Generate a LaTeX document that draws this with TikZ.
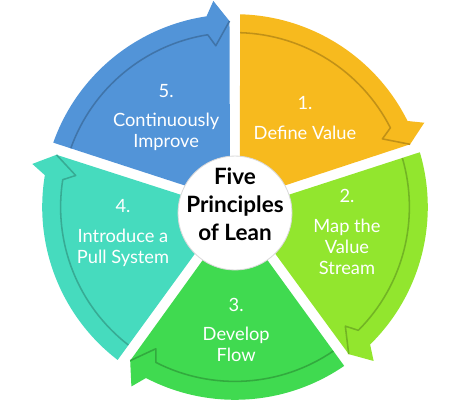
\documentclass[tikz,border=0pt]{standalone}
\usepackage{fontspec}
\setmainfont{Lato}
\definecolor{leanA}{RGB}{247,186,30}
\definecolor{leanB}{RGB}{146,230,46}
\definecolor{leanC}{RGB}{64,218,80}
\definecolor{leanD}{RGB}{70,219,190}
\definecolor{leanE}{RGB}{82,148,216}

\begin{document}
\begin{tikzpicture}[
    rim/.style={line width=1.1pt,line join=round},
    lbl/.style={text=white,align=center,font=\fontsize{13}{15}\selectfont},
    hub/.style={circle,fill=white,draw=black!15,line width=0.6pt,minimum size=2.85cm},
  ]
\useasboundingbox (-5.875,-5.0) rectangle (5.975,5.175);
% five arrow segments, clockwise
\foreach \a/\c in {90/leanA,18/leanB,-54/leanC,-126/leanD,162/leanE}{
  \pgfmathsetmacro\b{\a-72}
  \fill[\c] ({\a-36}:0.21) -- ({\a-1.5}:4.82)
    arc[start angle=\a-1.5,end angle=\b+8.5,radius=4.82cm]
    -- ({\b+6}:5.18) -- ({\b+1.7}:4.65) -- cycle;
  \draw[\c!78!black,rim] ({\a-1.7}:4.36)
    arc[start angle=\a-1.7,end angle=\b+9,radius=4.36cm]
    -- ({\b+6.8}:4.06) -- ({\b+1.7}:4.65);
}
\node[hub] (hub) at (0,-0.15) {};
\node[align=center,font=\fontsize{16}{20}\bfseries\selectfont] (title) at (0,0.06) {Five\\Principles\\of Lean};

\node[lbl] (s1) at (1.75,2.22) {1.\\[6pt]Define Value};
\node[lbl] (s2) at (2.8,-0.63) {2.\\[6pt]Map the\\Value\\Stream};
\node[lbl] (s3) at (0.03,-3.07) {3.\\[6pt]Develop\\Flow};
\node[lbl] (s4) at (-2.8,-0.65) {4.\\[6pt]Introduce a\\Pull System};
\node[lbl] (s5) at (-1.72,2.24) {5.\\[6pt]Continuously\\Improve};
\end{tikzpicture}
\end{document}
